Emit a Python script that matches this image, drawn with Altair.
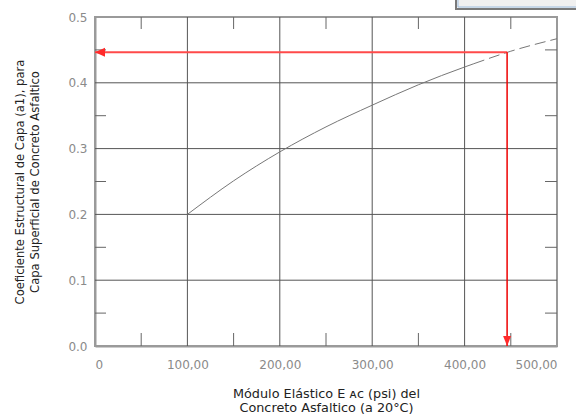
import altair as alt
import pandas as pd

# ---- data ----
modulus_solid = [100, 150, 200, 250, 300, 350, 400, 410]
coef_solid = [0.200, 0.251, 0.295, 0.333, 0.366, 0.397, 0.424, 0.429]
modulus_dash = [410, 450, 500]
coef_dash = [0.429, 0.448, 0.467]

x_ticks = [0, 100, 200, 300, 400, 500]
y_ticks = [0.0, 0.1, 0.2, 0.3, 0.4, 0.5]
x_grid = [100, 200, 300, 400]
y_grid = [0.1, 0.2, 0.3, 0.4]
x_minor = [50, 150, 250, 350, 450]
y_minor = [0.05, 0.15, 0.25, 0.35, 0.45]

read_modulus = 446
read_coef = 0.4465

W, H = 462, 329
LFONT = "DejaVu Sans"
TFONT = "DejaVu Sans"

xs = alt.Scale(domain=[0, 500], nice=False, zero=False)
ys = alt.Scale(domain=[0, 0.5], nice=False, zero=False)

x_axis = alt.Axis(
    values=x_ticks,
    labelExpr="datum.value == 0 ? '0' : replace(format(datum.value, '.2f'), '.', ',')",
    grid=False, ticks=False, labelPadding=13,
    labelColor="#8a8a8a", labelFont=LFONT, labelFontSize=12,
    domainColor="#9a9a9a", domainWidth=2,
    title=["Módulo Elástico E ᴀᴄ (psi) del", "Concreto Asfaltico (a 20°C)"],
    titleFont=TFONT, titleFontSize=12.8, titleFontWeight="normal", titleColor="#222",
    titlePadding=17, titleLineHeight=14,
)
y_axis = alt.Axis(
    values=y_ticks, format=".1f",
    grid=False, ticks=False, labelPadding=8,
    labelColor="#8a8a8a", labelFont=LFONT, labelFontSize=12,
    domainColor="#9a9a9a", domainWidth=2,
    title=["Coeficiente Estructural de Capa (a1), para",
           "Capa Superficial de Concreto Asfaltico"],
    titleFont=TFONT, titleFontSize=11.6, titleFontWeight="normal", titleColor="#222",
    titlePadding=27, titleLineHeight=15,
)


def X(f):
    return alt.X(f, type="quantitative", scale=xs, axis=x_axis)


def Y(f):
    return alt.Y(f, type="quantitative", scale=ys, axis=y_axis)


grid_col = "#555555"

vgrid = alt.Chart(pd.DataFrame({"v": x_grid})).mark_rule(color=grid_col, strokeWidth=1).encode(
    x=X("v"))
hgrid = alt.Chart(pd.DataFrame({"v": y_grid})).mark_rule(color=grid_col, strokeWidth=1).encode(
    y=Y("v"))

xm = pd.DataFrame({"v": x_minor})
ym = pd.DataFrame({"v": y_minor})
tick_col = "#666666"
xmin_b = alt.Chart(xm).mark_rule(color=tick_col).encode(
    x=X("v"), y=alt.value(H), y2=alt.value(H - 13))
xmin_t = alt.Chart(xm).mark_rule(color=tick_col).encode(
    x=X("v"), y=alt.value(0), y2=alt.value(12))
ymin_l = alt.Chart(ym).mark_rule(color=tick_col).encode(
    y=Y("v"), x=alt.value(0), x2=alt.value(11))
ymin_r = alt.Chart(ym).mark_rule(color=tick_col).encode(
    y=Y("v"), x=alt.value(W - 12), x2=alt.value(W))

curve_solid = alt.Chart(pd.DataFrame({"x": modulus_solid, "y": coef_solid})).mark_line(
    color="#777777", strokeWidth=1, interpolate="monotone").encode(x=X("x"), y=Y("y"))
curve_dash = alt.Chart(pd.DataFrame({"x": modulus_dash, "y": coef_dash})).mark_line(
    color="#777777", strokeWidth=1, strokeDash=[11, 5], interpolate="monotone").encode(
    x=X("x"), y=Y("y"))

red = "#ff2a2a"
hline = alt.Chart(pd.DataFrame({"x0": [0], "x1": [read_modulus], "y": [read_coef]})).mark_rule(
    color="#ff4a4a", strokeWidth=2).encode(x=X("x0"), x2="x1:Q", y=Y("y"))
vline = alt.Chart(pd.DataFrame({"x": [read_modulus], "y0": [0], "y1": [read_coef]})).mark_rule(
    color="#ee0000", strokeWidth=1.5).encode(x=X("x"), y=Y("y0"), y2="y1:Q")

head_left = alt.Chart(pd.DataFrame({"x": [0], "y": [read_coef]})).mark_point(
    shape="M0,0L1,-0.45L1,0.45Z", size=400, filled=True, color=red, opacity=1).encode(
    x=X("x"), y=Y("y"))
head_down = alt.Chart(pd.DataFrame({"x": [read_modulus], "y": [0]})).mark_point(
    shape="M0,0L-0.4,-1L0.4,-1Z", size=400, filled=True, color=red, opacity=1).encode(
    x=X("x"), y=Y("y"))

# window fragment at the top right of the screenshot
box = alt.Chart(pd.DataFrame({"k": [0]})).mark_rect(
    fill="#efefef", stroke="#7a7a7a", strokeWidth=2).encode(
    x=alt.value(361), x2=alt.value(W + 40), y=alt.value(-40), y2=alt.value(-8))
box_inner = alt.Chart(pd.DataFrame({"k": [0]})).mark_rect(
    fill="#f0f0f0", stroke="#9fbfe0", strokeWidth=1).encode(
    x=alt.value(363), x2=alt.value(W + 40), y=alt.value(-40), y2=alt.value(-10))

chart = alt.layer(
    vgrid, hgrid, xmin_b, xmin_t, ymin_l, ymin_r,
    curve_solid, curve_dash, hline, vline, head_left, head_down, box, box_inner,
).properties(
    width=W, height=H,
    padding={"left": 95, "top": 17, "right": 19, "bottom": 70},
    autosize=alt.AutoSizeParams(type="none"),
    background="white",
).configure_view(stroke="#9a9a9a", strokeWidth=2)

chart.save("out.html", embed_options={"renderer": "svg", "actions": False})
